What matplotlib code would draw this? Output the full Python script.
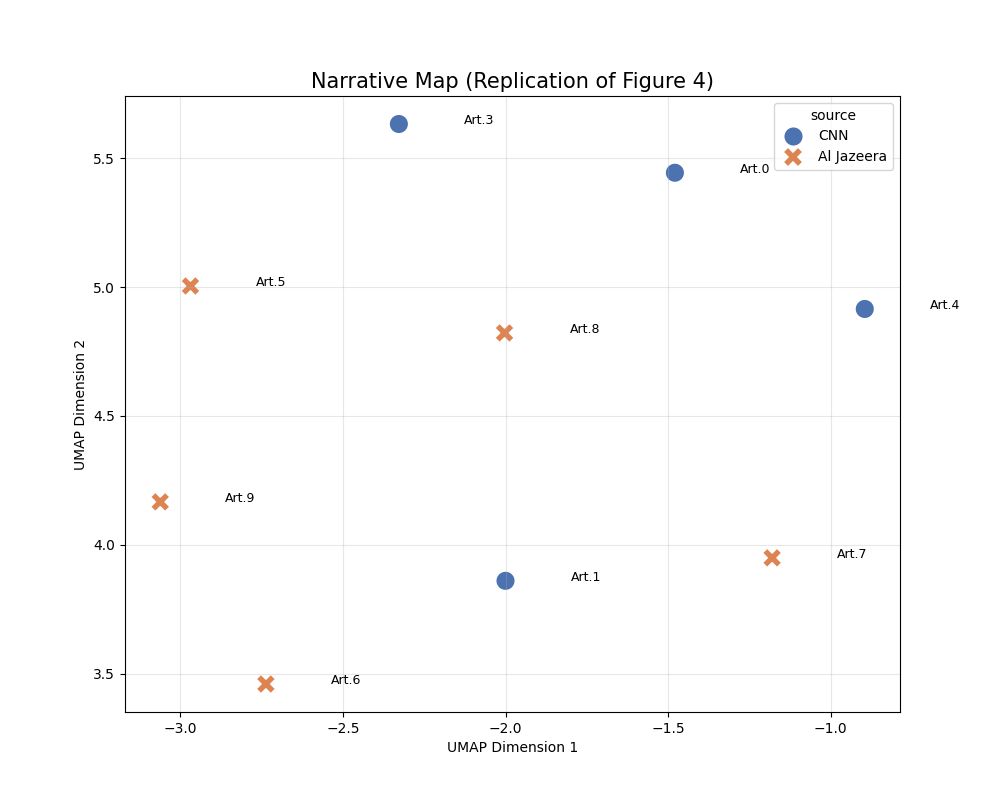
import numpy as np
import pandas as pd
import matplotlib
matplotlib.use("Agg")
import matplotlib.pyplot as plt
import seaborn as sns

# Coordinates
labels = ["Art.0", "Art.1", "Art.3", "Art.4", "Art.5", "Art.6", "Art.7", "Art.8", "Art.9"]
sources = ["CNN", "CNN", "CNN", "CNN", "Al Jazeera", "Al Jazeera", "Al Jazeera", "Al Jazeera", "Al Jazeera"]
umap_x = [-1.479, -2.000, -2.328, -0.895, -2.969, -2.737, -1.180, -2.003, -3.062]
umap_y = [5.443, 3.861, 5.632, 4.915, 5.004, 3.461, 3.950, 4.822, 4.167]

df = pd.DataFrame({"x": umap_x, "y": umap_y, "source": sources, "label": labels})

plt.figure(figsize=(10, 8))
ax = sns.scatterplot(data=df, x="x", y="y", hue="source", style="source",
                     s=200, palette="deep", hue_order=["CNN", "Al Jazeera"],
                     style_order=["CNN", "Al Jazeera"])

# Подписи статей
for i in range(len(df)):
    plt.text(df.x[i] + 0.2, df.y[i], df.label[i], fontsize=9)

plt.title("Narrative Map (Replication of Figure 4)", fontsize=15)
plt.xlabel("UMAP Dimension 1")
plt.ylabel("UMAP Dimension 2")
plt.grid(True, alpha=0.3)
plt.savefig("out.png", dpi=100)
